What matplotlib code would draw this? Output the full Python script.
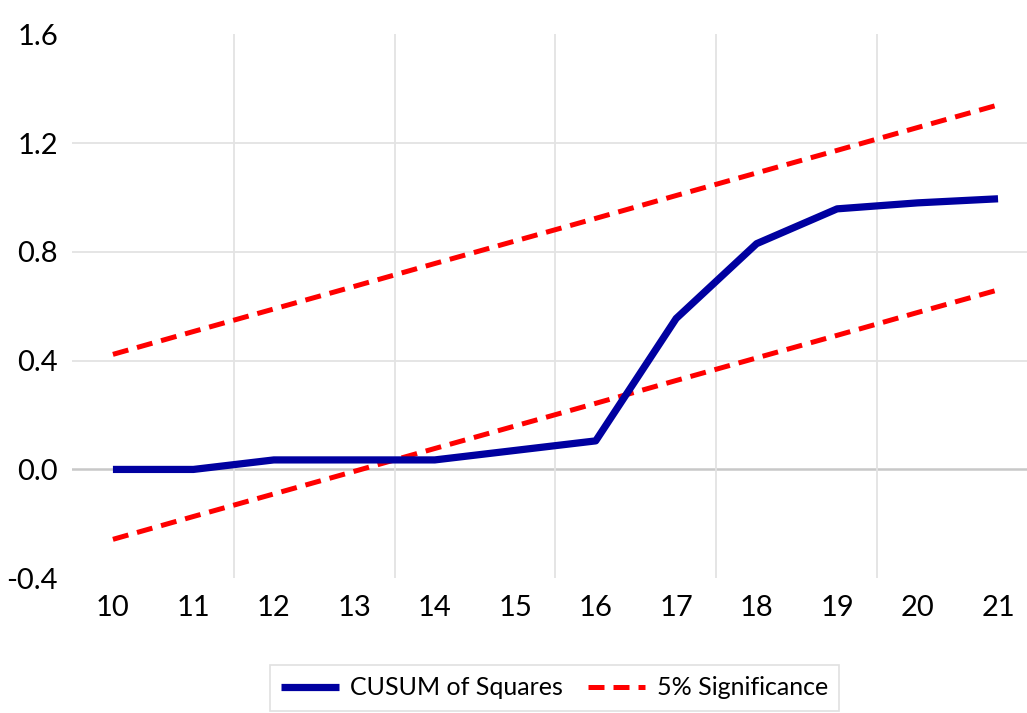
import matplotlib
matplotlib.use("Agg")
import matplotlib.pyplot as plt
from matplotlib.ticker import FixedLocator

plt.rcParams['font.family'] = ['Lato', 'DejaVu Sans']

periods = [10, 11, 12, 13, 14, 15, 16, 17, 18, 19, 20, 21]
cusum_sq = [0.0, 0.0, 0.035, 0.035, 0.035, 0.07, 0.105, 0.555, 0.83, 0.958, 0.98, 0.995]
upper = [0.423, 0.507, 0.59, 0.673, 0.757, 0.84, 0.923, 1.007, 1.09, 1.173, 1.257, 1.34]
lower = [-0.257, -0.173, -0.09, -0.007, 0.077, 0.16, 0.243, 0.327, 0.41, 0.493, 0.577, 0.66]
yticks = [-0.4, 0.0, 0.4, 0.8, 1.2, 1.6]

fig = plt.figure(figsize=(10.27, 7.13), dpi=100)
ax = fig.add_axes([0.070, 0.189, 0.93, 0.763])

ax.set_xlim(9.49, 21.36)
ax.set_ylim(-0.4, 1.6)

for y in [0.4, 0.8, 1.2]:
    ax.axhline(y, color='#e3e3e3', lw=1.3, zorder=0)
ax.axhline(0.0, color='#c8c8c8', lw=1.8, zorder=0)
ax.xaxis.set_minor_locator(FixedLocator([11.5, 13.5, 15.5, 17.5, 19.5]))
ax.grid(which='minor', axis='x', color='#e3e3e3', lw=1.3, zorder=0)

l1, = ax.plot(periods, cusum_sq, color='#0000A0', lw=5.2, solid_capstyle='butt',
              solid_joinstyle='round', label='CUSUM of Squares', zorder=3)
l2, = ax.plot(periods, upper, color='#FF0000', lw=3.6, dashes=(3.2, 1.8),
              label='5% Significance', zorder=2)
ax.plot(periods, lower, color='#FF0000', lw=3.6, dashes=(3.2, 1.8), zorder=2)

ax.set_xticks(periods)
ax.set_xticklabels([str(p) for p in periods])
ax.set_yticks(yticks)
ax.set_yticklabels([f"{t:.1f}" for t in yticks])
ax.tick_params(axis='both', which='both', length=0, labelsize=21, colors='black')
ax.tick_params(axis='x', pad=12)
ax.tick_params(axis='y', pad=10)
for s in ax.spines.values():
    s.set_visible(False)

leg = fig.legend(handles=[l1, l2], loc='upper center', bbox_to_anchor=(0.54, 0.0673),
                 ncol=2, fontsize=18, frameon=True, fancybox=False, edgecolor='#d9d9d9',
                 handlelength=2.3, columnspacing=1.0, borderpad=0.45, handletextpad=0.45,
                 borderaxespad=0)
leg.get_frame().set_linewidth(1.2)

fig.savefig('out.png', dpi=100)
